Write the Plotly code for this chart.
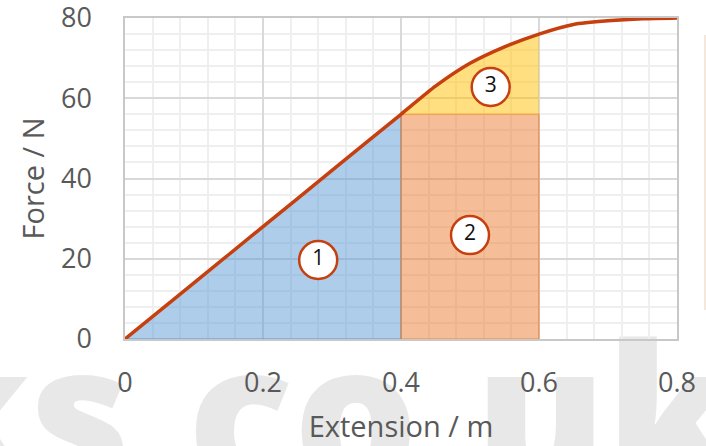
import plotly.graph_objects as go

# ---- data ----
extension = [0, 0.1, 0.2, 0.3, 0.4, 0.45, 0.5, 0.55, 0.6, 0.65, 0.7, 0.75, 0.8]
force = [0, 14, 28, 42, 56, 63, 68.7, 72.8, 76, 78.4, 79.3, 79.8, 80]

region1_end = 0.4      # end of elastic (linear) region
region2_end = 0.6      # end of shaded region
base_force = 56        # force at region1_end

label_text = ["1", "2", "3"]
label_x = [0.28, 0.50, 0.53]
label_y = [19.7, 25.9, 62.8]

x_ticks = [0, 0.2, 0.4, 0.6, 0.8]
y_ticks = [0, 20, 40, 60, 80]

watermark_text = "ks.co.uk"

W, H = 706, 446
LINE = "#C63F0E"
FONT = "Open Sans"
GREY = "#595959"

# ---- build region polygons from the data ----
r1x = [x for x in extension if x <= region1_end]
r1y = [f for x, f in zip(extension, force) if x <= region1_end]
blue_x = r1x + [region1_end, 0]
blue_y = r1y + [0, 0]

orange_x = [region1_end, region1_end, region2_end, region2_end, region1_end]
orange_y = [0, base_force, base_force, 0, 0]

r3x = [x for x in extension if region1_end <= x <= region2_end]
r3y = [f for x, f in zip(extension, force) if region1_end <= x <= region2_end]
yellow_x = r3x + [region2_end, region1_end]
yellow_y = r3y + [base_force, base_force]

fig = go.Figure()

# watermark on a full-figure background subplot (x/y), drawn first
fig.add_trace(go.Scatter(
    x=[318], y=[10], mode="text", text=[watermark_text],
    textposition="middle center", cliponaxis=True, hoverinfo="skip",
    textfont=dict(family=FONT, size=196, color="#e8e8e8", weight=800),
    showlegend=False, xaxis="x", yaxis="y"))

main = dict(xaxis="x2", yaxis="y2")

fig.add_trace(go.Scatter(
    x=blue_x, y=blue_y, fill="toself", mode="lines",
    fillcolor="rgba(91,155,213,0.5)",
    line=dict(color="rgba(91,155,213,0.7)", width=1.5),
    hoverinfo="skip", showlegend=False, **main))
fig.add_trace(go.Scatter(
    x=orange_x, y=orange_y, fill="toself", mode="lines",
    fillcolor="rgba(237,125,49,0.5)",
    line=dict(color="rgba(237,125,49,0.55)", width=1.5),
    hoverinfo="skip", showlegend=False, **main))
fig.add_trace(go.Scatter(
    x=yellow_x, y=yellow_y, fill="toself", mode="lines",
    fillcolor="rgba(255,192,0,0.5)",
    line=dict(color="rgba(255,192,0,0)", width=0),
    hoverinfo="skip", showlegend=False, **main))

# force-extension curve
fig.add_trace(go.Scatter(
    x=extension, y=force, mode="lines",
    line=dict(color=LINE, width=3.5, shape="spline", smoothing=0.6),
    showlegend=False, **main))

# circled labels
fig.add_trace(go.Scatter(
    x=label_x, y=label_y, mode="markers+text", text=label_text,
    textposition="middle center",
    marker=dict(size=38, color="white", line=dict(color=LINE, width=2.5)),
    textfont=dict(family=FONT, size=21, color="#111111"),
    showlegend=False, **main))

# background (watermark) axes: whole figure, invisible
hidden = dict(visible=False, showgrid=False, zeroline=False, fixedrange=True)
fig.update_layout(
    xaxis=dict(domain=[0, 1], range=[0, W], **hidden),
    yaxis=dict(domain=[0, 1], range=[0, H], **hidden),
)

axis_common = dict(
    showgrid=True, gridcolor="#d9d9d9", gridwidth=1.5,
    showline=True, linecolor="#c8c8c8", linewidth=1.5, mirror=True,
    ticks="", zeroline=False, ticklabeloverflow="allow",
    tickfont=dict(family=FONT, size=27, color=GREY),
)

fig.update_layout(
    xaxis2=dict(
        domain=[125 / W, 677 / W], anchor="y2",
        range=[0, 0.8], tickvals=x_ticks, ticktext=[f"{v:g}" for v in x_ticks],
        minor=dict(dtick=0.04, showgrid=True, gridcolor="#efefef", gridwidth=1.5),
        title=dict(text="Extension / m", font=dict(family=FONT, size=29, color=GREY), standoff=18),
        ticklabelstandoff=19,
        **axis_common),
    yaxis2=dict(
        domain=[(H - 339) / H, (H - 18) / H], anchor="x2",
        range=[0, 80], tickvals=y_ticks, ticktext=[str(v) for v in y_ticks],
        minor=dict(dtick=4, showgrid=True, gridcolor="#efefef", gridwidth=1.5),
        title=dict(text="Force / N", font=dict(family=FONT, size=29, color=GREY), standoff=8),
        ticklabelstandoff=26,
        **axis_common),
)

fig.add_shape(type="line", xref="paper", yref="paper",
              x0=705 / W, x1=705 / W, y0=(H - 310) / H, y1=(H - 35) / H,
              line=dict(color="#f4e7dc", width=2))

fig.update_layout(
    width=W, height=H,
    margin=dict(l=0, r=0, t=0, b=0, autoexpand=False),
    plot_bgcolor="rgba(0,0,0,0)", paper_bgcolor="white",
    font=dict(family=FONT, color=GREY),
)

fig.write_html("out.html", config={"displayModeBar": False},
               post_script="document.body.style.margin='0px';")
